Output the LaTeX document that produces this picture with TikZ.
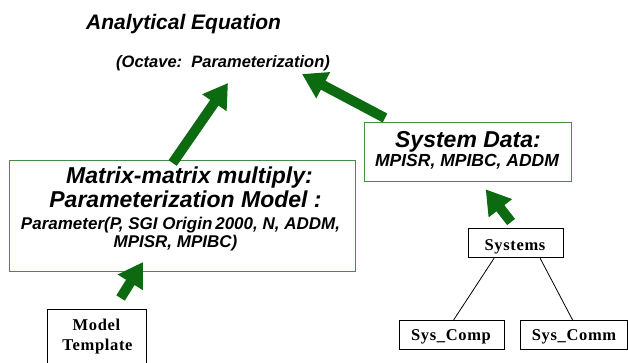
\documentclass[tikz,border=0pt]{standalone}
\usepackage{fontspec}
\setmainfont{Liberation Serif}
\setsansfont{Liberation Sans}
\newfontfamily\spacedserif[LetterSpace=4]{Liberation Serif}
\usetikzlibrary{arrows.meta}

\definecolor{arrowgreen}{RGB}{12,106,16}
\definecolor{boxgreen}{RGB}{72,138,72}

\tikzset{
  sanstext/.style={font=\sffamily\bfseries\itshape\fontsize{#1}{#1}\selectfont, inner sep=0pt, anchor=base},
  seriftext/.style={font=\spacedserif\bfseries\fontsize{#1}{#1}\selectfont, inner sep=0pt, anchor=base},
  greenbox/.style={draw=boxgreen, line width=1.3pt, inner sep=0pt, anchor=north west},
  blackbox/.style={draw=black, line width=1.2pt, inner sep=0pt, anchor=north west},
  bigarrow/.style={draw=arrowgreen, line width=10pt, -{Triangle[width=28pt,length=24pt]}},
  thinline/.style={draw=black, line width=0.8pt},
}

\begin{document}
\begin{tikzpicture}[x=1pt,y=-1pt]
\useasboundingbox (0,0) rectangle (628,362);
\fill[white] (0,0) rectangle (628,362);

% heading
\node[sanstext=21, anchor=base west] (title) at (86,29) {Analytical Equation};
\node[sanstext=16.5, anchor=base west] (subtitle) at (116,67) {(Octave:\ \ Parameterization)};

% parameterization model box
\node[greenbox, minimum width=346pt, minimum height=111pt] (lbox) at (9,160) {};
\node[sanstext=23] (l1) at (189.5,183) {Matrix-matrix multiply:};
\node[sanstext=23] (l2) at (185.5,207) {Parameterization Model :};
\node[sanstext=17] (l3) at (180.5,229) {Parameter(P, SGI Origin\,2000, N, ADDM,};
\node[sanstext=17] (l4) at (175.5,247) {MPISR, MPIBC)};

% system data box
\node[greenbox, minimum width=207pt, minimum height=59pt] (rbox) at (364,122) {};
\node[sanstext=23] (r1) at (468,147) {System Data:};
\node[sanstext=17.5] (r2) at (467,166) {MPISR, MPIBC, ADDM};

% model template box (runs past the lower edge)
\node[blackbox, minimum width=99pt, minimum height=62pt] (mt) at (47,309) {};
\node[seriftext=16.5] (mt1) at (96.5,330) {Model};
\node[seriftext=16.5] (mt2) at (97.5,350) {Template};

% systems tree
\node[blackbox, minimum width=95pt, minimum height=29pt] (sys) at (468,228) {};
\node[seriftext=16.5] (syst) at (515,250) {Systems};
\node[blackbox, minimum width=105pt, minimum height=29pt] (comp) at (399,320) {};
\node[seriftext=16.5] (compt) at (451,340) {Sys\_Comp};
\node[blackbox, minimum width=107pt, minimum height=29pt] (comm) at (520,320) {};
\node[seriftext=16.5] (commt) at (574,340) {Sys\_Comm};

\draw[thinline] ([xshift=-22pt]sys.south) -- ([xshift=1.5pt]comp.north);
\draw[thinline] ([xshift=24pt]sys.south) -- ([xshift=-1.5pt]comm.north);

% arrow targets below the heading
\coordinate (eqleft) at (228,83);
\coordinate (eqright) at (302,74);
\coordinate (lboxin) at (143,262);

% green flow arrows
\draw[bigarrow] ([xshift=-10pt,yshift=-3pt]lbox.north) -- (eqleft);
\draw[bigarrow] ([xshift=21pt,yshift=4pt]rbox.north west) -- (eqright);
\draw[bigarrow] ([xshift=23.5pt,yshift=11pt]mt.north) -- (lboxin);
\draw[bigarrow] ([xshift=-5pt,yshift=6pt]sys.north) -- ([xshift=17.5pt,yshift=-7pt]rbox.south);
\end{tikzpicture}
\end{document}
